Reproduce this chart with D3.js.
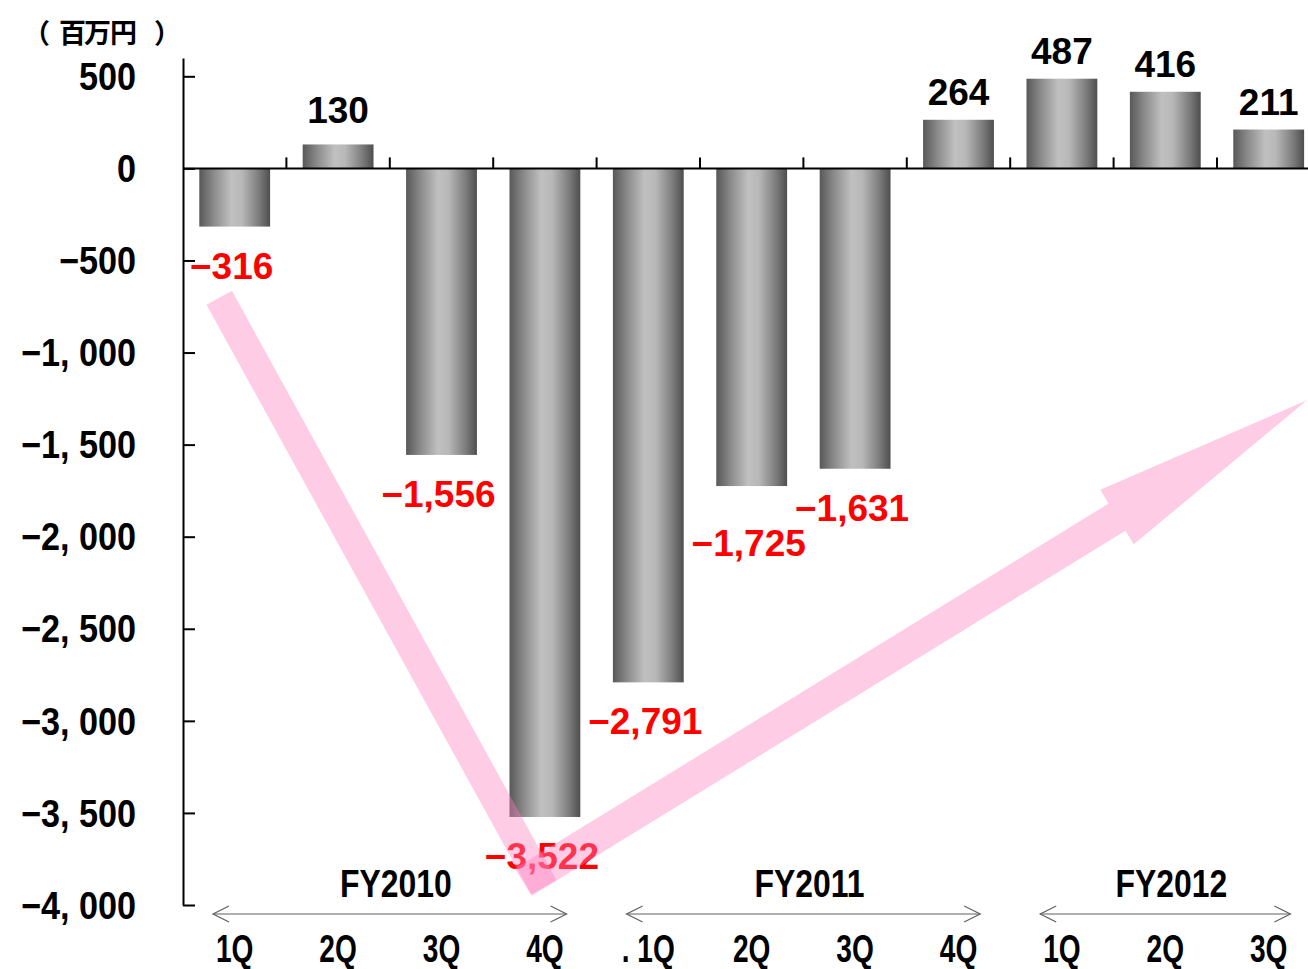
<!DOCTYPE html>
<html><head><meta charset="utf-8">
<script src="https://cdn.jsdelivr.net/npm/d3@7"></script>
<style>body{margin:0;background:#fff;overflow:hidden}</style>
</head><body><svg id="c" width="1308" height="969"></svg>
<script>
const quarters = ["1Q","2Q","3Q","4Q",". 1Q","2Q","3Q","4Q","1Q","2Q","3Q"];
const values = [-316,130,-1556,-3522,-2791,-1725,-1631,264,487,416,211];
const yTicks = [500,0,-500,-1000,-1500,-2000,-2500,-3000,-3500,-4000];
const fiscalYears = ["FY2010","FY2011","FY2012"];
const fyStart = [0,4,8];
const fyEnd = [3,7,10];
const unitLabel = "（百万円）";
// pink trend arrow, in (category index, value) space
const trendIdx = [-0.15, 2.92, 10.37];
const trendVal = [-703, -3832, -1259];

const svg = d3.select("#c");
const font = "'Liberation Sans','Arimo',Roboto,sans-serif";

const x = d3.scaleBand().domain(d3.range(values.length)).range([183, 1320.4]).padding(0);
const y = d3.scaleLinear().domain([-4000, 600]).range([905, 57.9]);
const bw = x.bandwidth() * 0.685;
const cx = i => x(i) + x.bandwidth() / 2;

// narrow text helper: horizontally compressed bold text
function ntext(sel, tx, ty, txt, anchor, sx, size) {
  const gg = sel.append("g").attr("transform", `translate(${tx},${ty}) scale(${sx},1)`);
  return gg.append("text").attr("text-anchor", anchor)
    .style("font-family", font).style("font-weight", "bold").style("font-size", size + "px")
    .text(txt);
}

const defs = svg.append("defs");
const g = defs.append("linearGradient").attr("id","barGrad").attr("x1","0").attr("x2","1").attr("y1","0").attr("y2","0");
[[0,"#585858"],[0.2,"#8a8a8a"],[0.45,"#c0c0c0"],[0.6,"#b8b8b8"],[0.85,"#7a7a7a"],[1,"#4e4e4e"]]
  .forEach(([o,c]) => g.append("stop").attr("offset", o).attr("stop-color", c));

// bars
svg.append("g").selectAll("rect").data(values).join("rect")
  .attr("x", (d,i) => cx(i) - bw/2)
  .attr("width", bw)
  .attr("y", d => Math.min(y(d), y(0)))
  .attr("height", d => Math.abs(y(d) - y(0)))
  .attr("fill", "url(#barGrad)");

// y axis
const yAxis = d3.axisRight(y).tickValues(yTicks).tickSize(12).tickSizeOuter(0).tickFormat("");
const ya = svg.append("g").attr("transform", "translate(183,0)").call(yAxis);
ya.selectAll("path,line").attr("stroke", "#000").attr("stroke-width", 2);

const fmt = v => (v < 0 ? "−" : "") + d3.format(",")(Math.abs(v)).replace(",", ", ");
const yl = svg.append("g");
yTicks.forEach(v => ntext(yl, 136, y(v), fmt(v), "end", 0.9, 38).attr("dy", "0.36em"));

// x axis line at zero with band-boundary ticks
svg.append("line").attr("x1", 183).attr("x2", 1308).attr("y1", y(0)).attr("y2", y(0))
  .attr("stroke", "#000").attr("stroke-width", 2);
svg.append("g").selectAll("line").data(d3.range(1, values.length)).join("line")
  .attr("x1", i => x(i)).attr("x2", i => x(i))
  .attr("y1", y(0)).attr("y2", y(0) - 11)
  .attr("stroke", "#000").attr("stroke-width", 2);

// unit label (one text, characters spaced like the full-width original)
svg.append("text").attr("x", "23 59 84 110 154").attr("y", 43)
  .style("font-family", "'Noto Sans CJK JP',sans-serif").style("font-weight", "bold").style("font-size", "27px")
  .text(unitLabel);

// value labels
const nudge = {1: 6, 5: 18};
svg.append("g").selectAll("text").data(values).join("text")
  .attr("x", (d,i) => cx(i) - (d < 0 ? 3 : 0))
  .attr("y", (d,i) => d >= 0 ? y(d) - 15 - (nudge[i]||0) : y(d) + 52 + (nudge[i]||0))
  .attr("text-anchor", "middle")
  .attr("fill", d => d < 0 ? "#ff0000" : "#000")
  .style("font-family", font).style("font-weight", "bold").style("font-size", "37px")
  .text(d => (d < 0 ? "−" : "") + d3.format(",")(Math.abs(d)));

// quarter labels
const ql = svg.append("g");
quarters.forEach((q, i) => ntext(ql, cx(i), 962, q, "middle", 0.74, 38));

// fiscal year brackets
const fy = svg.append("g");
fiscalYears.forEach((name, k) => {
  const x1 = x(fyStart[k]) + 30, x2 = x(fyEnd[k]) + x.bandwidth() - 30, ay = 914;
  const st = s => s.attr("stroke", "#606060").attr("stroke-width", 1.2).attr("fill", "none");
  st(fy.append("line").attr("x1", x1).attr("x2", x2).attr("y1", ay).attr("y2", ay));
  st(fy.append("path").attr("d", `M${x1+16},${ay-8}L${x1},${ay}L${x1+16},${ay+8}`));
  st(fy.append("path").attr("d", `M${x2-16},${ay-8}L${x2},${ay}L${x2-16},${ay+8}`));
  ntext(fy, (x1 + x2) / 2 + 6, 897, name, "middle", 0.84, 38);
});

// pink trend arrow
const P = trendIdx.map((t, k) => [x(0) + (t + 0.5) * x.bandwidth(), y(trendVal[k])]);
const unit = (a, b) => { const dx = b[0]-a[0], dy = b[1]-a[1], l = Math.hypot(dx, dy); return [dx/l, dy/l]; };
const add = (p, v, s) => [p[0] + v[0]*s, p[1] + v[1]*s];
const pink = svg.append("g").attr("fill", "#ff80c0").attr("fill-opacity", 0.4);
{
  const u = unit(P[0], P[1]), n = [-u[1], u[0]], h = 14.5;
  const E = add(P[1], u, 15);
  pink.append("polygon").attr("points", [add(P[0], n, h), add(E, n, h), add(E, n, -h), add(P[0], n, -h)].map(p => p.join(",")).join(" "));
}
{
  const u = unit(P[1], P[2]), n = [-u[1], u[0]], h = 16, hh = 32, hl = 223;
  const S = add(P[1], u, -15.6), B = add(P[2], u, -hl);
  const pts = [add(S, n, h), add(B, n, h), add(B, n, hh), P[2], add(B, n, -hh), add(B, n, -h), add(S, n, -h)];
  pink.append("polygon").attr("points", pts.map(p => p.join(",")).join(" "));
}
</script></body></html>
